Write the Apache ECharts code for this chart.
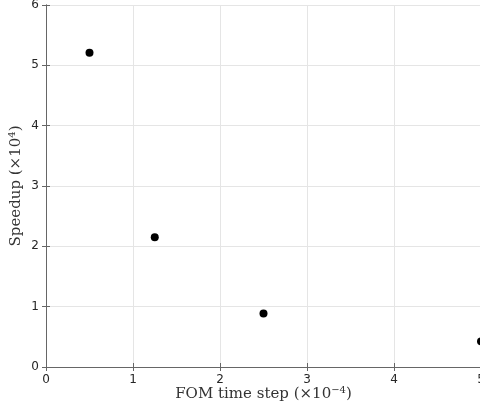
<!DOCTYPE html>
<html>
<head>
<meta charset="utf-8">
<style>
  html, body { margin: 0; padding: 0; background: #fff; }
  #chart { width: 480px; height: 412px; }
</style>
<script src="https://cdn.jsdelivr.net/npm/echarts@6/dist/echarts.min.js"></script>
</head>
<body>
<div id="chart"></div>
<script>
// FOM time step (x 1e-4) against speedup (x 1e4)
const timeSteps = [0.5, 1.25, 2.5, 5];
const speedups = [5.21, 2.15, 0.885, 0.425];
const xTicks = [0, 1, 2, 3, 4, 5];
const yTicks = [0, 1, 2, 3, 4, 5, 6];

const axisColor = '#666666';
const textColor = '#262626';
const gridColor = '#e5e5e5';
const tickFont = { color: textColor, fontSize: 12, fontFamily: 'DejaVu Sans' };
const serif = 'DejaVu Serif, Liberation Serif, serif';

const chart = echarts.init(document.getElementById('chart'), null, { renderer: 'canvas' });

function baseAxis(min, max) {
  return {
    type: 'value',
    min: min,
    max: max,
    interval: 1,
    axisLine: { show: true, lineStyle: { color: axisColor, width: 1 } },
    axisTick: { show: true, inside: true, length: 4, lineStyle: { color: axisColor } },
    splitLine: { show: false },
    axisLabel: { show: false }
  };
}

const nameRich = {
  t: { fontFamily: serif, fontSize: 15, color: '#333333' },
  s: { fontFamily: serif, fontSize: 10, color: '#333333', padding: [0, 0, 9, 0] }
};

const option = {
  animation: false,
  backgroundColor: '#ffffff',
  grid: {
    left: 46, top: 5, width: 435, height: 362,
    containLabel: false,
    outerBoundsMode: 'none'
  },
  xAxis: [
    Object.assign(baseAxis(xTicks[0], xTicks[xTicks.length - 1]), {
      position: 'bottom',
      splitLine: { show: true, lineStyle: { color: gridColor, width: 1 } },
      axisLabel: Object.assign({ show: true, margin: 7 }, tickFont),
      name: '{t|FOM time step (×10}{s|−4}{t|)}',
      nameLocation: 'middle',
      nameGap: 18,
      nameMoveOverlap: false,
      nameTextStyle: { rich: nameRich }
    }),
    Object.assign(baseAxis(xTicks[0], xTicks[xTicks.length - 1]), { position: 'top' })
  ],
  yAxis: [
    Object.assign(baseAxis(yTicks[0], yTicks[yTicks.length - 1]), {
      position: 'left',
      splitLine: { show: true, lineStyle: { color: gridColor, width: 1 } },
      axisLabel: Object.assign({ show: true, margin: 7 }, tickFont),
      name: '{t|Speedup (×10}{s|4}{t|)}',
      nameLocation: 'middle',
      nameGap: 20,
      nameMoveOverlap: false,
      nameTextStyle: { rich: nameRich }
    }),
    Object.assign(baseAxis(yTicks[0], yTicks[yTicks.length - 1]), { position: 'right' })
  ],
  series: [{
    type: 'scatter',
    xAxisIndex: 0,
    yAxisIndex: 0,
    data: timeSteps.map((x, i) => [x, speedups[i]]),
    symbol: 'circle',
    symbolSize: 8,
    itemStyle: { color: '#000000', opacity: 1 },
    clip: false
  }]
};

chart.setOption(option);
</script>
</body>
</html>
